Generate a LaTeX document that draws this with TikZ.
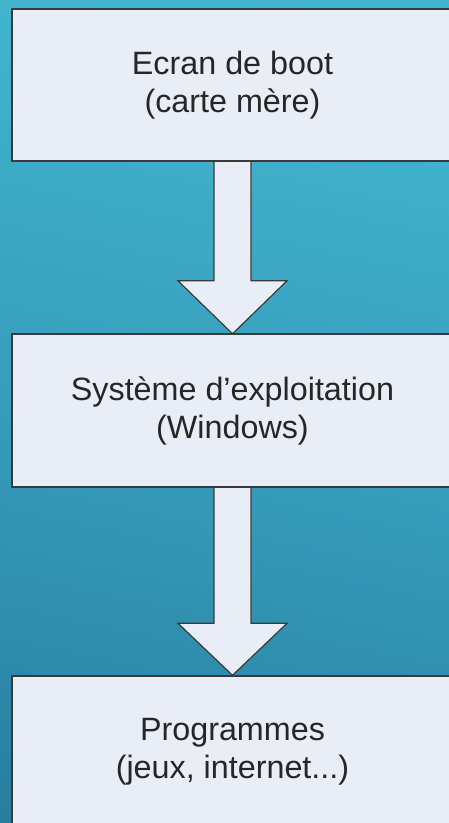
\documentclass[tikz,border=0pt]{standalone}
\usepackage{fontspec}
\setmainfont{Liberation Sans}
\usetikzlibrary{calc}
\definecolor{bgA}{HTML}{1A5274}
\definecolor{bgB}{HTML}{287FA0}
\definecolor{bgC}{HTML}{3599B8}
\definecolor{bgD}{HTML}{40B2CC}
\definecolor{bgE}{HTML}{47BDD4}
\definecolor{boxfill}{HTML}{E8EDF6}
\definecolor{boxline}{HTML}{3A3A3A}
\definecolor{txt}{HTML}{262626}
\pgfdeclareverticalshading{bgshade}{100bp}{color(0bp)=(bgA); color(22bp)=(bgB); color(44bp)=(bgC); color(70bp)=(bgD); color(100bp)=(bgE)}
\tikzset{
  stagebox/.style={draw=boxline, line width=1.4pt, fill=boxfill, minimum width=441pt, minimum height=152pt, inner sep=0pt, align=center, text=txt, font=\fontsize{32.3}{38}\selectfont},
  blockarrow/.style={draw=boxline, line width=1.2pt, fill=boxfill, line join=miter}
}
\begin{document}
\begin{tikzpicture}[x=1pt,y=1pt]
\useasboundingbox (0,0) rectangle (449,-823);
\clip (0,0) rectangle (449,-823);
\shade[shading=bgshade, shading angle=-12] (-10,10) rectangle (459,-833);
\node[stagebox] (b1) at (232.5,-85) {Ecran de boot\\(carte mère)};
\node[stagebox] (b2) at (232.5,-410.5) {Système d’exploitation\\(Windows)};
\node[stagebox] (b3) at (232.5,-752) {Programmes\\(jeux, internet...)};
% arrows
\draw[blockarrow] ($(b1.south)+(-18.5,0)$) -- ($(b2.north)+(-18.5,53)$) -- ($(b2.north)+(-54.5,53)$) -- (b2.north) -- ($(b2.north)+(54.5,53)$) -- ($(b2.north)+(18.5,53)$) -- ($(b1.south)+(18.5,0)$);
\draw[blockarrow] ($(b2.south)+(-18.5,0)$) -- ($(b3.north)+(-18.5,52)$) -- ($(b3.north)+(-54.5,52)$) -- (b3.north) -- ($(b3.north)+(54.5,52)$) -- ($(b3.north)+(18.5,52)$) -- ($(b2.south)+(18.5,0)$);
% redraw box borders on top
\draw[draw=boxline, line width=1.4pt] (b1.south west) -- (b1.south east);
\draw[draw=boxline, line width=1.4pt] (b2.south west) -- (b2.south east);
\draw[draw=boxline, line width=1.4pt] (b2.north west) -- (b2.north east);
\draw[draw=boxline, line width=1.4pt] (b3.north west) -- (b3.north east);
\end{tikzpicture}
\end{document}
